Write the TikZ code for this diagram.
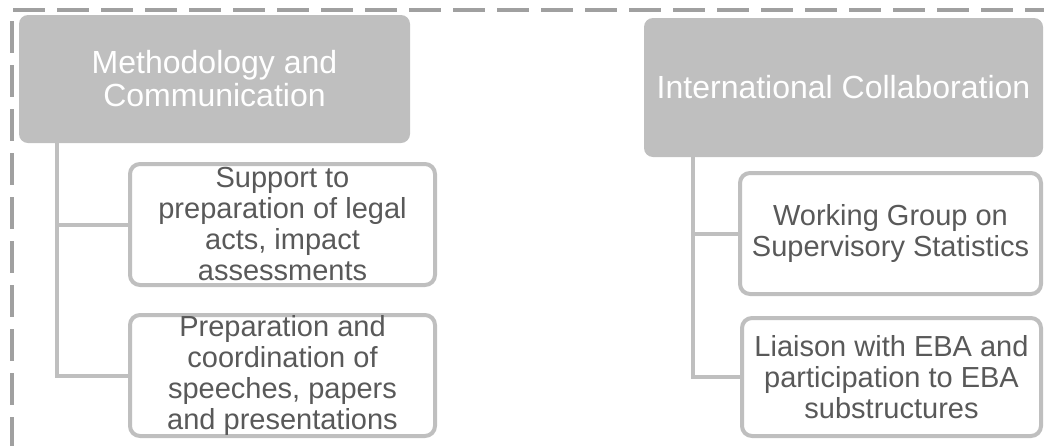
\documentclass[tikz,border=0pt]{standalone}
\usepackage{fontspec}
\setmainfont{Liberation Sans}
\definecolor{boxgray}{HTML}{BFBFBF}
\definecolor{bordergray}{HTML}{A0A0A0}
\definecolor{itemtext}{HTML}{595959}
\begin{document}
\begin{tikzpicture}[x=1pt,y=-1pt,
  header/.style={rectangle, rounded corners=9pt, fill=boxgray, draw=none,
    text=white, align=center, inner sep=0pt,
    font=\fontsize{32pt}{33pt}\selectfont},
  item/.style={rectangle, rounded corners=10pt, draw=boxgray, line width=4pt,
    fill=white, text=itemtext, align=center, inner sep=0pt,
    font=\fontsize{29pt}{31pt}\selectfont},
  link/.style={draw=boxgray, line width=4pt},
  frameline/.style={draw=bordergray, line width=3.2pt, dash pattern=on 32pt off 12pt}]

\useasboundingbox (0,0) rectangle (1044,445);

% dashed frame along the top and left
\draw[frameline] (13,10) -- (1050,10);
\draw[frameline] (12,21) -- (12,452);

% group headers
\node[header, minimum width=391pt, minimum height=128pt] (mc) at (214.5,79)
  {Methodology and\\Communication};
\node[header, minimum width=399pt, minimum height=139pt] (ic) at (843.5,87.5)
  {International Collaboration};

% stems below the headers
\coordinate (mcstem) at ([xshift=38pt]mc.south west);
\coordinate (icstem) at ([xshift=49pt]ic.south west);

% task boxes
\node[item, minimum width=305pt, minimum height=121pt] (sup) at (282.5,224.5)
  {Support to\\preparation of legal\\acts, impact\\assessments};
\node[item, minimum width=305pt, minimum height=121pt] (prep) at (282.5,375.5)
  {Preparation and\\coordination of\\speeches, papers\\and presentations};
\node[item, minimum width=301pt, minimum height=121pt] (wg) at (890.5,233.5)
  {Working Group on\\Supervisory Statistics};
\node[item, minimum width=299pt, minimum height=118pt] (eba) at (891.5,377)
  {Liaison with EBA and\\participation to EBA\\substructures};

% branches into the task boxes
\draw[link] (mcstem) |- (sup.west);
\draw[link] (mcstem) |- (prep.west);
\draw[link] (icstem) |- (wg.west);
\draw[link] (icstem) |- (eba.west);
\end{tikzpicture}
\end{document}
